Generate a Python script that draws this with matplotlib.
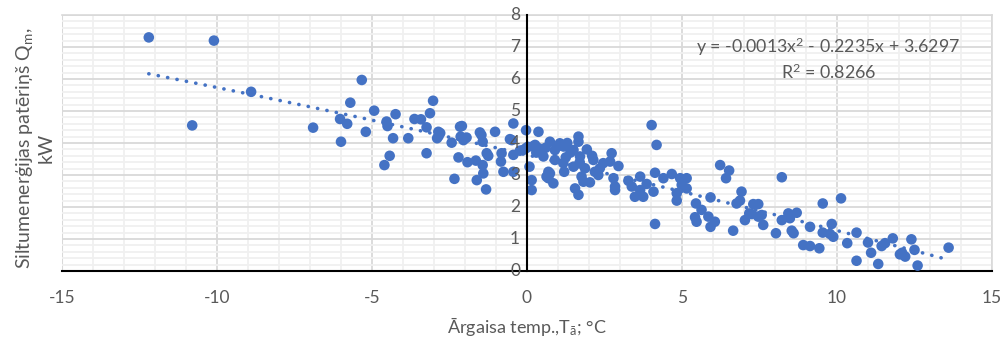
import matplotlib
matplotlib.use("Agg")
import matplotlib.pyplot as plt
import numpy as np
from matplotlib.ticker import MultipleLocator
import matplotlib.transforms as mtransforms

# ---- data ----
temp = [
    -12.2, -10.1, -10.8, -8.9,
    -6.9, -6.03, -5.8, -5.7, -6.0, -5.33, -5.2, -4.93,
    -4.53, -4.5, -4.24, -4.32, -4.43, -4.6,
    -3.83, -3.63, -3.42, -3.24, -3.13, -3.03, -3.24,
    -2.86, -2.9, -2.8, -2.85,
    -2.43, -2.21, -2.34, -2.16, -2.1, -2.14, -2.05, -1.95,
    -1.92, -1.65, -1.62, -1.52, -1.43, -1.43, -1.41, -1.32, -1.3, -1.25, -1.47,
    -1.03, -0.82, -0.84, -0.76, -0.55, -0.49, -0.44, -0.44, -0.44, -0.23, -0.03, -0.03, -0.13,
    0.03, 0.08, 0.15, 0.15, 0.2, 0.26, 0.37, 0.37, 0.42,
    0.53, 0.63, 0.74, 0.69, 0.74, 0.69, 0.85, 0.9, 0.9,
    1.06, 1.18, 1.17, 1.5, 1.5, 1.55, 1.66, 1.66, 1.66, 1.71, 1.76, 1.82, 1.87, 1.93,
    1.0, 1.3, 1.4, 2.1, 0.3, 1.2, 1.7, 1.25, 0.6, 2.3,
    2.03, 2.14, 2.19, 2.35, 2.46, 2.68, 2.73, 2.79, 2.84, 2.84, 2.95,
    3.27, 3.38, 3.48, 3.65, 3.65, 3.75, 3.86, 4.02, 4.08, 4.18, 4.13, 4.13, 4.4, 4.67,
    4.94, 5.15, 4.99, 5.15, 4.83, 4.83, 5.45, 5.63, 5.42, 5.47, 5.85, 6.06, 5.92, 5.92,
    6.23, 6.52, 6.42, 6.65, 6.76, 6.92, 6.87, 7.03, 7.3, 7.46, 7.25, 7.46, 7.62, 7.57, 7.17,
    8.22, 8.03, 8.22, 8.43, 8.7, 8.54, 8.6, 8.48, 9.13, 8.91, 9.13, 9.43, 9.54, 9.54,
    9.83, 9.88, 9.77, 10.13, 10.33, 10.63, 10.63, 11.0, 11.1, 11.33, 11.44, 11.55,
    11.8, 12.03, 12.2, 12.1, 12.4, 12.5, 12.6, 13.6,
]
heat = [
    7.3, 7.2, 4.55, 5.6,
    4.48, 4.75, 4.6, 5.26, 4.04, 5.97, 4.35, 5.01,
    4.67, 4.53, 4.9, 4.15, 3.6, 3.31,
    4.15, 4.75, 4.74, 4.49, 4.93, 5.32, 3.68,
    4.35, 4.15, 4.31, 4.22,
    4.01, 3.55, 2.88, 4.51, 4.53, 4.2, 4.09, 4.17,
    3.4, 3.45, 2.84, 4.33, 4.04, 3.31, 3.05, 2.55, 3.68, 3.6, 4.25,
    4.35, 3.68, 3.42, 3.1, 4.12, 4.09, 4.61, 3.1, 3.63, 3.76, 4.4, 3.84, 3.78,
    3.88, 3.26, 2.84, 2.53, 3.9, 3.94, 4.35, 3.84, 3.78,
    3.58, 2.95, 4.04, 3.1, 3.05, 2.9, 2.74, 3.78, 3.47,
    3.99, 3.89, 3.37, 3.78, 3.26, 2.58, 2.38, 4.2, 4.04, 3.58, 2.95, 2.79, 3.21, 3.8,
    3.9, 4.0, 3.7, 3.6, 3.7, 3.1, 3.4, 3.55, 3.85, 3.0,
    2.77, 3.47, 3.1, 3.21, 3.37, 3.42, 3.68, 2.9, 2.64, 2.53, 3.28,
    2.82, 2.64, 2.32, 2.95, 2.53, 2.32, 2.72, 4.56, 2.48, 3.94, 3.07, 1.47, 2.9, 3.03,
    2.9, 2.9, 2.69, 2.58, 2.43, 2.2, 2.11, 1.91, 1.68, 1.54, 1.7, 1.54, 1.38, 2.3,
    3.31, 3.14, 2.9, 1.26, 2.11, 2.48, 2.2, 1.59, 2.09, 2.09, 1.78, 1.7, 1.44, 1.75, 1.8,
    2.93, 1.18, 1.59, 1.8, 1.82, 1.26, 1.18, 1.65, 1.38, 0.81, 0.78, 0.71, 2.11, 1.2,
    1.47, 1.07, 1.16, 2.27, 0.87, 1.2, 0.32, 0.89, 0.57, 0.22, 0.78, 0.87,
    1.02, 0.52, 0.45, 0.57, 0.99, 0.66, 0.17, 0.73,
]
y_ticks = [0, 1, 2, 3, 4, 5, 6, 7, 8]
# trendline coefficients as displayed on the chart
coef = [-0.0013, -0.2235, 3.6297]
eq_text = "y = -0.0013x$^2$ - 0.2235x + 3.6297"
r2_text = "R$^2$ = 0.8266"
x_label = "Ārgaisa temp.,T$_{\\mathregular{ā}}$; °C"
y_label = "Siltumenerģijas patēriņš Q$_{\\mathregular{m}}$,\nkW"

BLUE = "#4472C4"
GREY = "#595959"

plt.rcParams['font.family'] = ['Lato', 'DejaVu Sans']
plt.rcParams['mathtext.fontset'] = 'custom'
plt.rcParams['mathtext.rm'] = 'Lato'
plt.rcParams['mathtext.it'] = 'Lato'
plt.rcParams['axes.unicode_minus'] = False

fig = plt.figure(figsize=(10.02, 3.40), dpi=100)
ax = fig.add_axes([62/1002, 1-271/340, (992-62)/1002, (271-15)/340])

ax.set_xlim(-15, 15)
ax.set_ylim(0, 8)

ax.xaxis.set_major_locator(MultipleLocator(5))
ax.xaxis.set_minor_locator(MultipleLocator(1))
ax.set_yticks(y_ticks)
ax.yaxis.set_minor_locator(MultipleLocator(0.2))
ax.grid(which='major', color='#D9D9D9', linewidth=1.3, zorder=0)
ax.grid(which='minor', color='#F0F0F0', linewidth=1.3, zorder=0)
ax.set_axisbelow(True)

for s in ['top', 'right']:
    ax.spines[s].set_color('#D9D9D9')
    ax.spines[s].set_linewidth(1.2)
ax.spines['left'].set_position(('data', 0))
ax.spines['left'].set_color('black')
ax.spines['left'].set_linewidth(1.5)
ax.spines['left'].set_zorder(4)
ax.spines['bottom'].set_color('black')
ax.spines['bottom'].set_linewidth(1.5)
ax.axvline(-15, color='#D9D9D9', linewidth=1.5, zorder=0.5)

ax.tick_params(which='both', length=0, labelcolor=GREY, labelsize=12.5)
ax.tick_params(axis='x', pad=14)
ax.tick_params(axis='y', labelleft=False)

# y tick labels drawn above the markers, next to the x=0 axis
off = mtransforms.offset_copy(ax.transData, fig=fig, x=-5, y=0, units='points')
for v in y_ticks:
    ax.text(0, v, f"{v:g}", transform=off, ha='right', va='center',
            color=GREY, fontsize=12.5, zorder=5, clip_on=False)

ax.scatter(temp, heat, s=58, color=BLUE, edgecolors='none', zorder=3)

xt = np.linspace(min(temp), max(temp), 200)
yt = np.polyval(coef, xt)
ax.plot(xt, yt, color=BLUE, linewidth=2.6, linestyle=(0, (0.05, 2.6)),
        dash_capstyle='round', zorder=2)

ax.text(0.824, 0.875, eq_text, transform=ax.transAxes, ha='center', va='center',
        color=GREY, fontsize=12.8)
ax.text(0.824, 0.777, r2_text, transform=ax.transAxes, ha='center', va='center',
        color=GREY, fontsize=12.8)

fig.text(527/1002, 1-326/340, x_label, ha='center', va='center', color=GREY, fontsize=13)
fig.text(34/1002, 1-148/340, y_label, ha='center', va='center', color=GREY,
         fontsize=14, rotation=90, multialignment='center', linespacing=1.2)

fig.savefig("out.png", dpi=100)
